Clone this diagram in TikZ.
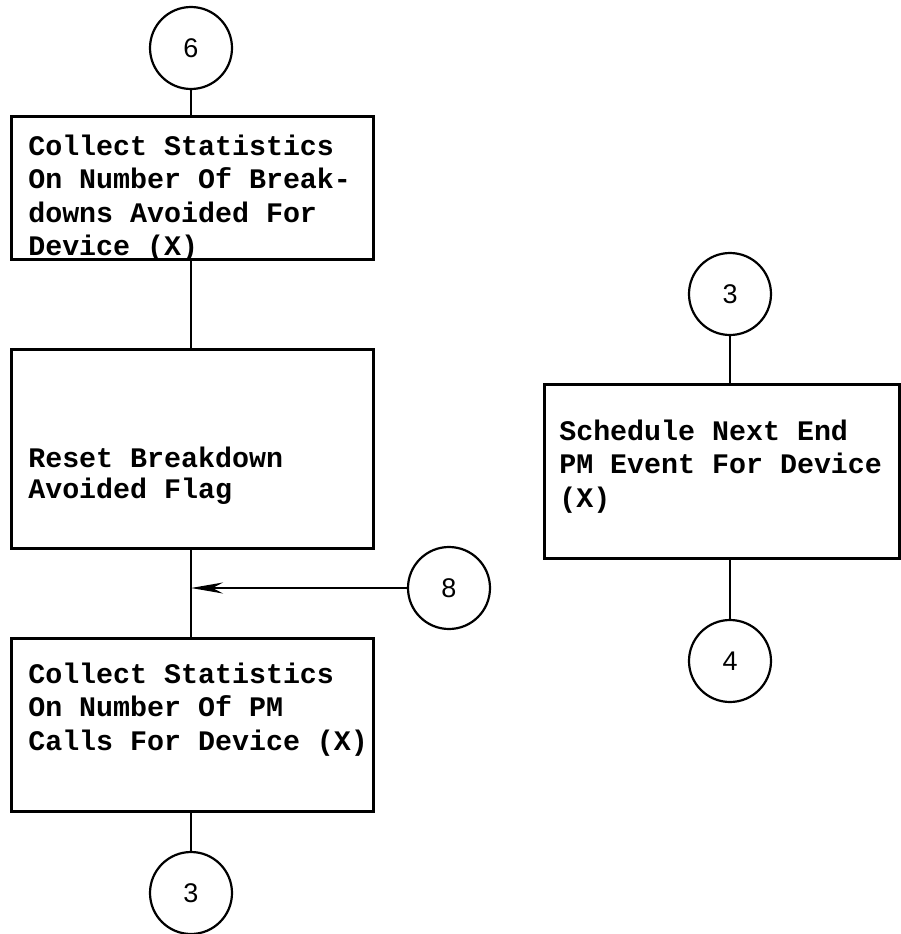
\documentclass[tikz,border=0pt]{standalone}
\usepackage{fontspec}
\newfontfamily\boxfont{Liberation Mono}
\newfontfamily\numfont{Liberation Sans}
\usetikzlibrary{arrows.meta}
\begin{document}
\begin{tikzpicture}[x=1pt,y=-1pt,
  line width=2.6pt,
  boxnode/.style={draw, rectangle, minimum width=362pt, anchor=north west, inner sep=0pt},
  conn/.style={draw, circle, minimum size=82pt, inner sep=0pt, line width=2.2pt, font=\numfont\fontsize{27}{30}\selectfont},
  lbl/.style={anchor=base west, inner sep=0pt, align=left, font=\boxfont\bfseries\fontsize{28.3}{33.5}\selectfont},
  wire/.style={line width=2.6pt}]
\useasboundingbox (0,0) rectangle (900,934);
% left column
\node[conn] (c6) at (191,48) {6};
\node[boxnode, minimum height=143pt] (b1) at (10,115) {};
\node[lbl] (t1) at (27,255.5) {Collect Statistics\\On Number Of Break-\\downs Avoided For\\Device (X)};
\node[boxnode, minimum height=199pt] (b2) at (10,348) {};
\node[lbl, font=\boxfont\bfseries\fontsize{28.3}{31.5}\selectfont] (t2) at (27,498.5) {Reset Breakdown\\Avoided Flag};
\node[boxnode, minimum height=173pt] (b3) at (10,637) {};
\node[lbl] (t3) at (27,750) {Collect Statistics\\On Number Of PM\\Calls For Device (X)};
\node[conn] (c3a) at (191,893) {3};
\node[conn] (c8) at (449,588) {8};
\coordinate (j) at (191,588);
% right column
\node[conn] (c3b) at (730,294) {3};
\node[boxnode, minimum width=355pt, minimum height=174pt] (b4) at (543,383) {};
\node[lbl] (t4) at (558,507) {Schedule Next End\\PM Event For Device\\(X)};
\node[conn] (c4) at (730,661) {4};
% connectors
\draw[wire] (c6.south) -- (c6.south |- b1.north);
\draw[wire] (b1.south -| c6.south) -- (b2.north -| c6.south);
\draw[wire] (b2.south -| c6.south) -- (b3.north -| c6.south);
\draw[wire] (b3.south -| c6.south) -- (c3a.north);
\draw[wire, -{Stealth[length=32pt, width=11pt]}] (c8.west) -- (j);
\draw[wire] (c3b.south) -- (c3b.south |- b4.north);
\draw[wire] (b4.south -| c3b.south) -- (c4.north);
\end{tikzpicture}
\end{document}
